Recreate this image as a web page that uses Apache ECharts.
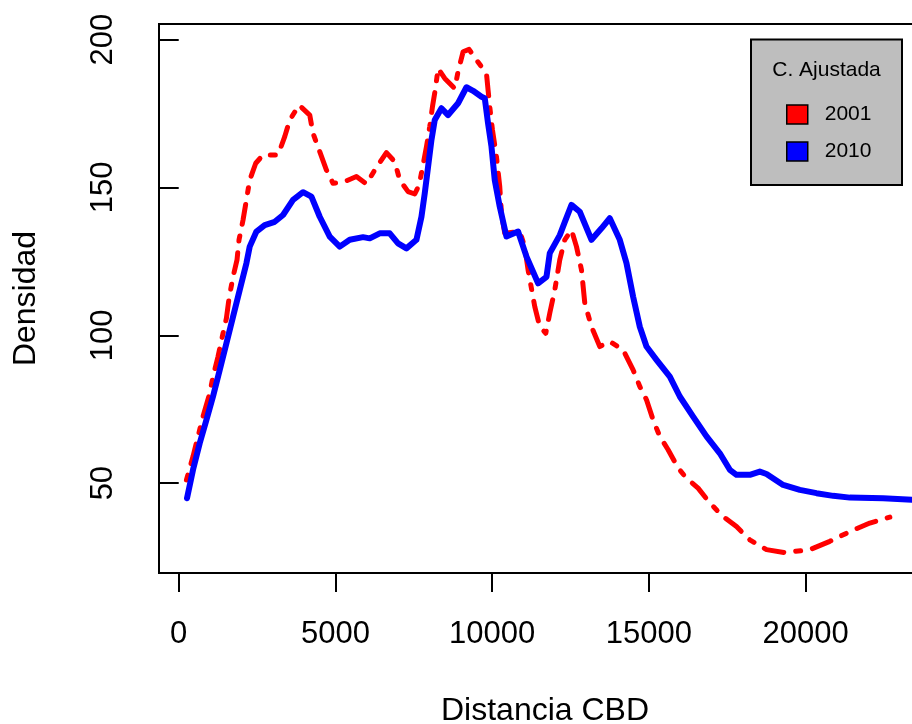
<!DOCTYPE html>
<html>
<head>
<meta charset="utf-8">
<script src="https://cdn.jsdelivr.net/npm/echarts@6/dist/echarts.min.js"></script>
<style>
html,body{margin:0;padding:0;background:#fff;}
#chart{width:912px;height:724px;}
</style>
</head>
<body>
<div id="chart"></div>
<script>
// Distance to CBD (x) and adjusted density (y)
const dist2001 = [246,456,616,775,989,1094,1254,1414,1522,1605,1733,1860,1924,2052,2160,2265,2457,2690,3169,3382,3542,3839,4180,4285,4499,4713,4923,5297,5670,5989,6254,6627,6892,7052,7317,7530,7668,7795,7904,8009,8095,8200,8274,8488,8807,8912,9072,9263,9499,9818,9869,9923,10010,10137,10242,10297,10402,10881,11040,11146,11359,11519,11710,11838,11997,12157,12316,12531,12690,12850,12955,13169,13433,13752,14177,14496,14710,14923,15134,15348,15613,15932,16200,16570,16943,17368,17795,18220,18753,19336,20134,20772,21410,22048,22687];
const dens2001 = [51.1,59.0,65.8,72.5,80.4,86.0,92.8,100.7,105.8,112.5,119.8,125.5,132.3,139.0,145.8,152.5,158.2,161.0,161.0,167.2,172.8,177.9,174.5,168.3,162.1,155.9,151.4,152.0,153.7,151.2,155.9,161.8,158.7,152.5,148.6,147.8,150.8,157.6,163.8,170.6,177.3,184.1,190.3,186.9,183.5,189.2,195.9,196.7,193.1,188.6,183.0,177.3,169.4,160.4,150.3,141.3,134.5,135.1,130.0,122.1,109.7,102.9,100.7,107.5,115.3,125.5,132.3,135.6,130.0,122.1,110.9,102.9,96.2,97.9,95.1,88.3,82.7,78.2,71.4,65.8,61.3,55.1,51.7,48.3,43.3,38.7,35.3,30.8,27.5,26.5,27.5,30.3,33.6,36.5,38.5];
const dist2010 = [265,456,670,884,1094,1308,1522,1733,1946,2160,2265,2479,2744,3063,3328,3647,3966,4234,4499,4818,5137,5456,5881,6094,6413,6732,6997,7265,7584,7744,7849,7955,8063,8168,8382,8593,8912,9180,9391,9659,9764,9869,9978,10083,10242,10456,10827,11095,11465,11733,11838,12157,12316,12531,12795,13169,13488,13752,14071,14285,14496,14710,14923,15243,15667,15986,16411,16838,17263,17582,17795,18220,18539,18753,19283,19815,20348,20879,21410,22473,23389,23900];
const dens2010 = [44.9,54.5,63.5,71.4,79.3,88.3,97.3,106.3,115.3,124.4,130.0,135.1,137.3,138.4,140.7,145.8,148.4,146.9,140.1,133.4,130.0,132.3,133.2,132.8,134.5,134.5,131.1,129.4,132.3,140.1,148.0,157.0,166.1,172.8,176.8,174.5,178.5,183.9,182.7,180.7,180.2,171.7,163.8,152.5,143.5,133.4,135.1,126.6,117.6,119.8,127.8,133.9,138.3,144.1,141.8,132.3,136.2,139.6,132.3,124.4,113.1,102.9,96.2,91.7,86.0,79.3,72.5,65.8,60.1,54.5,52.8,52.8,53.9,53.1,49.4,47.7,46.6,45.7,45.1,44.9,44.4,44.3];
const xTicks = [0, 5000, 10000, 15000, 20000];
const yTicks = [50, 100, 150, 200];
const seriesNames = ['2001', '2010'];
const legendTitle = 'C. Ajustada';
const xTitle = 'Distancia CBD';
const yTitle = 'Densidad';

const FONT = '"Liberation Sans", Arial, sans-serif';
const pairs = (xs, ys) => xs.map((x, i) => [x, ys[i]]);

const chart = echarts.init(document.getElementById('chart'), null, {renderer: 'canvas'});
chart.setOption({
  animation: false,
  backgroundColor: '#ffffff',
  grid: {
    left: 159, top: 24, width: 772, height: 549,
    containLabel: false, outerBoundsMode: 'none',
    show: true, borderColor: '#000', borderWidth: 2, backgroundColor: 'transparent'
  },
  xAxis: {
    type: 'value', min: -629, max: 24000,
    name: xTitle, nameLocation: 'middle', nameGap: 122,
    nameTextStyle: {fontFamily: FONT, fontSize: 32, color: '#000'},
    axisLine: {show: false},
    splitLine: {show: false},
    axisTick: {show: true, customValues: xTicks, length: 19, lineStyle: {color: '#000', width: 2}},
    axisLabel: {customValues: xTicks, margin: 46, fontFamily: FONT, fontSize: 31, color: '#000',
                formatter: v => String(v)}
  },
  yAxis: {
    type: 'value', min: 19.6, max: 205.3,
    name: yTitle, nameLocation: 'middle', nameGap: 117,
    nameTextStyle: {fontFamily: FONT, fontSize: 32, color: '#000'},
    axisLine: {show: false},
    splitLine: {show: false},
    axisTick: {show: true, customValues: yTicks, length: 19, lineStyle: {color: '#000', width: 2}},
    axisLabel: {customValues: yTicks, rotate: 90, margin: 40, fontFamily: FONT, fontSize: 31, color: '#000',
                formatter: v => String(v)}
  },
  legend: {
    data: seriesNames,
    orient: 'vertical', left: 781, top: 99,
    itemWidth: 21, itemHeight: 19, itemGap: 16,
    icon: 'rect', selectedMode: false, z: 20,
    itemStyle: {borderColor: '#000', borderWidth: 1.5},
    textStyle: {fontFamily: FONT, fontSize: 21, color: '#000', padding: [0, 0, 0, 12]}
  },
  graphic: [
    {type: 'rect', z: 15, shape: {x: 751, y: 39.5, width: 151, height: 145.5},
     style: {fill: '#bebebe', stroke: '#000', lineWidth: 2}},
    {type: 'text', z: 16, x: 826.5, y: 70,
     style: {text: legendTitle, font: '21px ' + FONT, fill: '#000', textAlign: 'center', textVerticalAlign: 'middle'}}
  ],
  series: [
    {name: seriesNames[0], type: 'line', data: pairs(dist2001, dens2001), symbol: 'none',
     color: '#ff0000',
     lineStyle: {color: '#ff0000', width: 5, type: [5, 12, 20, 12], cap: 'round', join: 'round'}},
    {name: seriesNames[1], type: 'line', data: pairs(dist2010, dens2010), symbol: 'none',
     color: '#0000ff',
     lineStyle: {color: '#0000ff', width: 6, cap: 'round', join: 'round'}}
  ]
});
</script>
</body>
</html>
